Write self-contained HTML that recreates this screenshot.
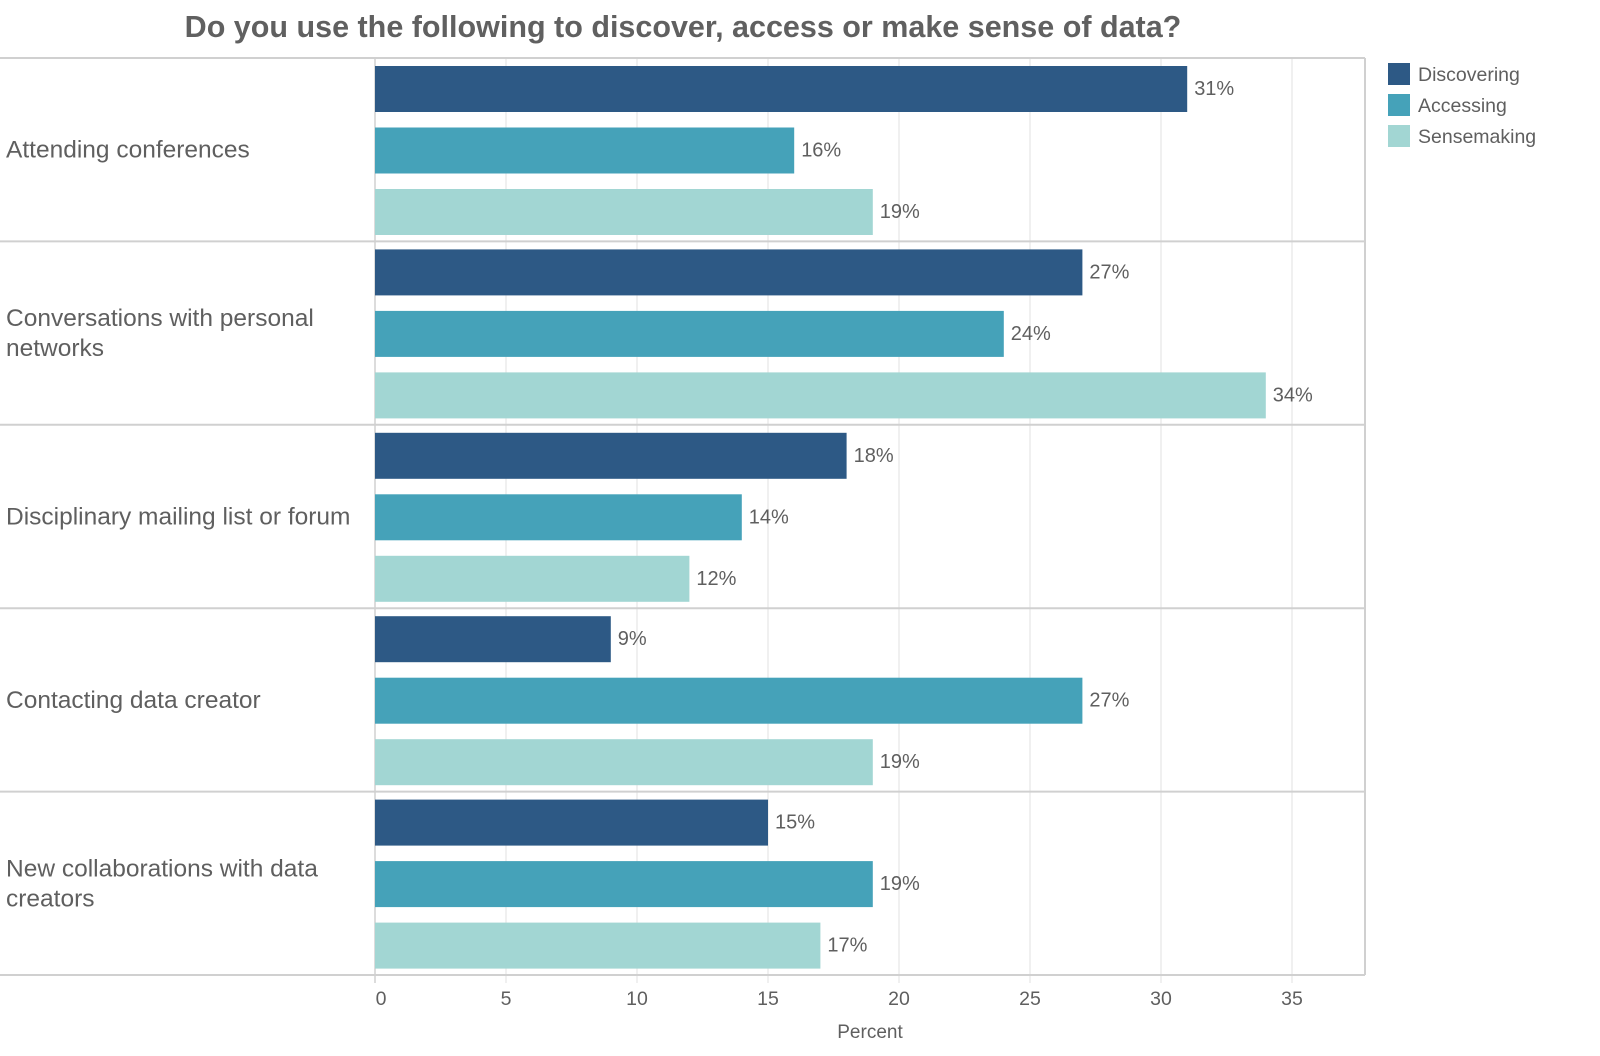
<!DOCTYPE html>
<html><head><meta charset="utf-8"><style>
body{margin:0;background:#fff;font-family:"Liberation Sans",Arial,sans-serif;}
svg text{font-family:"Liberation Sans",Arial,sans-serif;}
</style></head><body>
<svg id="chart" width="1600" height="1051" viewBox="0 0 1600 1051" xmlns="http://www.w3.org/2000/svg">
<text x="683" y="37" text-anchor="middle" font-size="30.5" font-weight="bold" fill="#606060">Do you use the following to discover, access or make sense of data?</text>
<g id="grid"></g><g id="bars"></g><g id="labels"></g><g id="axis"></g>
<g id="legend"></g>
</svg>
<script>
const categories=[["Attending conferences"],["Conversations with personal","networks"],["Disciplinary mailing list or forum"],["Contacting data creator"],["New collaborations with data","creators"]];
const seriesNames=["Discovering","Accessing","Sensemaking"];
const discovering=[31,27,18,9,15];
const accessing=[16,24,14,27,19];
const sensemaking=[19,34,12,19,17];
const ticks=[0,5,10,15,20,25,30,35];
const colors=["#2d5985","#45a2b9","#a2d6d3"];
const series=[discovering,accessing,sensemaking];
const NS="http://www.w3.org/2000/svg";
const x0=375,unit=26.2,plotTop=58,plotBottom=975,plotRight=1365;
const rowH=(plotBottom-plotTop)/categories.length;
const xs=v=>x0+v*unit;
function mk(tag,attrs,parent,txt){const e=document.createElementNS(NS,tag);for(const k in attrs)e.setAttribute(k,attrs[k]);if(txt!==undefined)e.textContent=txt;document.getElementById(parent).appendChild(e);return e;}
ticks.forEach(t=>{
 const g=mk('line',{x1:xs(t),x2:xs(t),y1:plotTop,y2:plotBottom+8,stroke:t===0?'#d0d0d0':'#ececec','stroke-width':1.5},'grid');
 
 
 const l=mk('text',{x:xs(t)+(t===0?6:0),y:1005,'text-anchor':'middle','font-size':19.5,fill:'#5f5f5f'},'axis',String(t));
 
 
});
for(let i=0;i<=categories.length;i++){
 const y=plotTop+i*rowH;
 const h=mk('line',{x1:0,x2:plotRight,y1:y,y2:y,stroke:'#d0d0d0','stroke-width':2},'grid');
 
 
}
const rb=mk('line',{x1:plotRight,x2:plotRight,y1:plotTop,y2:plotBottom,stroke:'#d0d0d0','stroke-width':2},'grid');


const xt=mk('text',{x:870,y:1038,'text-anchor':'middle','font-size':19,fill:'#5f5f5f'},'axis','Percent');


categories.forEach((c,i)=>{
 const rt=plotTop+i*rowH;
 const n=c.length;
 c.forEach((line,j)=>{
  const t=mk('text',{x:6,y:rt+rowH/2+8+(j-(n-1)/2)*30,'font-size':24.5,fill:'#5f5f5f'},'labels',line);
  
  
 });
 series.forEach((s,k)=>{
  const y=rt+8+k*61.5;
  const r=mk('rect',{x:x0,y:y,width:xs(s[i])-x0,height:46,fill:colors[k]},'bars');
  
  
  const v=mk('text',{x:xs(s[i])+7,y:y+29,'font-size':20,fill:'#5f5f5f'},'labels',s[i]+'%');
  
  
 });
});
seriesNames.forEach((n,k)=>{
 const y=63+k*31;
 const s=mk('rect',{x:1388,y:y,width:22,height:22,fill:colors[k]},'legend');
 
 
 const t=mk('text',{x:1418,y:y+18,'font-size':19.5,fill:'#5f5f5f'},'legend',n);
 
 
});
</script>
</body></html>
